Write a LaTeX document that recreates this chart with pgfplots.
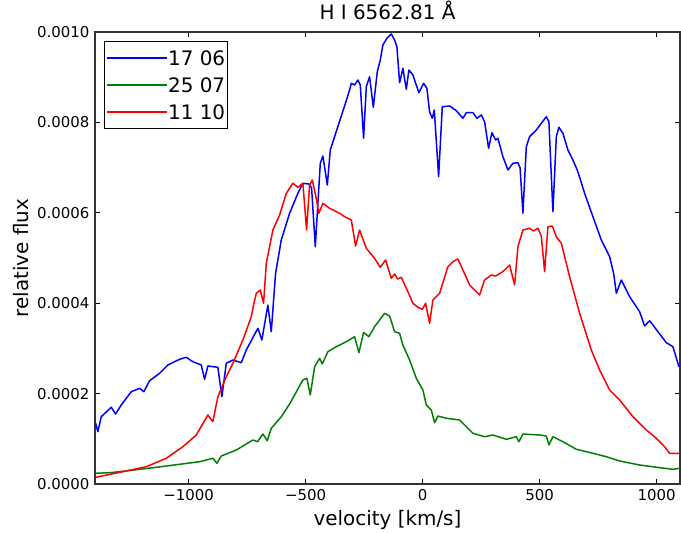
\documentclass[border=0pt]{standalone}
\usepackage{pgfplots}
\pgfplotsset{compat=1.18}
\usepackage{fontspec}
\setmainfont{DejaVu Sans}
\definecolor{mplblue}{rgb}{0,0,1}
\definecolor{mplgreen}{rgb}{0,0.5,0}
\definecolor{mplred}{rgb}{1,0,0}
\begin{document}
\begin{tikzpicture}
\begin{axis}[
  name=ax,
  scale only axis, width=585bp, height=452bp,
  xmin=-1400, xmax=1100, ymin=0, ymax=0.0010,
  xtick={-1000,-500,0,500,1000},
  xticklabels={−1000,−500,0,500,1000},
  ytick={0,0.0002,0.0004,0.0006,0.0008,0.0010},
  yticklabels={0.0000,0.0002,0.0004,0.0006,0.0008,0.0010},
  scaled y ticks=false, scaled x ticks=false,
  minor tick num=0,
  tick align=inside, xtick pos=both, ytick pos=both,
  xticklabel pos=lower, yticklabel pos=left,
  major tick length=5.5bp,
  tick style={line width=1bp, black},
  axis line style={line width=1.2bp, black!80},
  ticklabel style={font=\fontsize{15}{18}\selectfont, inner sep=0pt},
  xticklabel shift=5.5bp, yticklabel shift=5.5bp,
  title={H I 6562.81 Å},
  title style={at={(axis description cs:0.5,1.0155)}, anchor=base, inner sep=0pt, font=\fontsize{20}{24}\selectfont},
  xlabel={velocity [km/s]},
  xlabel style={at={(axis description cs:0.5,-0.0929)}, anchor=base, inner sep=0pt, font=\fontsize{20}{24}\selectfont},
  ylabel={relative flux},
  ylabel style={at={(axis description cs:-0.1145,0.5)}, rotate=0, anchor=base, inner sep=0pt, font=\fontsize{20}{24}\selectfont},
  legend cell align=left,
  legend image code/.code={\path (0bp,0bp) -- (60bp,0bp); \draw[#1, line width=1.5bp] (11bp,0bp) -- (39bp,0bp);},
  legend style={at={(0.01538,0.9808)}, anchor=north west, draw=black, line width=1.2bp,
    fill=white, inner xsep=2bp, inner ysep=9.5bp, row sep=12.4bp,
    font=\fontsize{20}{24}\selectfont,
    nodes={inner sep=0pt, text height=14.6bp, text depth=0bp}},
]
\addplot[mplblue, line width=1.5bp, line join=round] coordinates {
(-1397.6,1.35e-4) (-1387.8,1.157e-4) (-1373.2,1.489e-4) (-1330.5,1.697e-4) (-1312.1,1.549e-4)
(-1287.8,1.748e-4) (-1245.0,2.042e-4) (-1209.5,2.117e-4) (-1191.2,2.042e-4) (-1166.8,2.285e-4)
(-1124.1,2.449e-4) (-1088.6,2.633e-4) (-1038.6,2.759e-4) (-1009.9,2.803e-4) (-981.7,2.706e-4)
(-945.8,2.633e-4) (-931.7,2.316e-4) (-917.6,2.611e-4) (-874.9,2.582e-4) (-857.8,1.931e-4)
(-839.0,2.670e-4) (-810.8,2.743e-4) (-774.9,2.684e-4) (-753.5,2.965e-4) (-703.9,3.445e-4)
(-686.8,3.186e-4) (-661.2,3.960e-4) (-646.7,3.369e-4) (-628.3,4.662e-4) (-603.9,5.398e-4)
(-568.4,5.989e-4) (-533.0,6.431e-4) (-511.6,6.653e-4) (-486.0,6.637e-4) (-474.4,6.549e-4)
(-458.6,5.250e-4) (-443.2,6.577e-4) (-437.2,7.095e-4) (-426.1,7.257e-4) (-407.3,6.615e-4)
(-394.5,7.389e-4) (-376.1,7.684e-4) (-357.7,7.980e-4) (-333.4,8.363e-4) (-312.0,8.717e-4)
(-304.7,8.865e-4) (-290.6,8.827e-4) (-276.5,8.938e-4) (-266.3,8.827e-4) (-252.2,7.648e-4)
(-240.6,8.790e-4) (-226.5,9.011e-4) (-210.7,8.334e-4) (-193.6,9.122e-4) (-180.8,9.381e-4)
(-169.7,9.712e-4) (-152.6,9.861e-4) (-133.8,9.956e-4) (-119.7,9.823e-4) (-109.8,9.675e-4)
(-98.3,8.878e-4) (-84.2,9.197e-4) (-69.7,8.732e-4) (-58.6,9.159e-4) (-41.5,9.049e-4)
(-15.8,8.657e-4) (4.3,8.865e-4) (18.4,8.754e-4) (29.9,8.230e-4) (41.5,8.091e-4)
(50.0,8.274e-4) (68.4,6.799e-4) (84.2,8.347e-4) (115.4,8.363e-4) (144.0,8.259e-4)
(172.2,8.091e-4) (186.8,8.215e-4) (215.0,8.215e-4) (232.1,8.091e-4) (250.9,8.164e-4)
(265.0,8.015e-4) (282.1,7.427e-4) (296.2,7.772e-4) (312.0,7.611e-4) (321.8,7.648e-4)
(343.2,7.241e-4) (364.6,6.947e-4) (385.9,7.095e-4) (407.3,7.108e-4) (416.7,6.991e-4)
(428.7,5.989e-4) (443.2,7.462e-4) (457.3,7.684e-4) (486.0,7.832e-4) (507.3,7.980e-4)
(528.7,8.126e-4) (539.8,8.015e-4) (556.9,6.024e-4) (571.4,7.684e-4) (582.5,7.892e-4)
(599.6,7.759e-4) (621.0,7.389e-4) (642.4,7.168e-4) (662.5,6.925e-4) (692.4,6.431e-4)
(727.9,5.914e-4) (763.8,5.398e-4) (799.2,5.029e-4) (816.3,4.662e-4) (827.9,4.219e-4)
(849.2,4.513e-4) (884.7,4.144e-4) (927.5,3.812e-4) (948.8,3.496e-4) (970.2,3.613e-4)
(1005.7,3.369e-4) (1041.6,3.126e-4) (1069.8,3.038e-4) (1095.4,2.595e-4)
};
\addlegendentry{17 06}
\addplot[mplgreen, line width=1.5bp, line join=round] coordinates {
(-1397.6,0.237e-4) (-1337.8,0.250e-4) (-1280.9,0.281e-4) (-1138.2,0.369e-4) (-1038.6,0.436e-4)
(-953.1,0.493e-4) (-896.3,0.569e-4) (-879.2,0.458e-4) (-860.4,0.619e-4) (-796.2,0.752e-4)
(-725.3,0.973e-4) (-705.2,0.936e-4) (-682.6,1.106e-4) (-663.8,0.958e-4) (-646.7,1.232e-4)
(-603.9,1.489e-4) (-568.4,1.770e-4) (-511.6,2.301e-4) (-494.5,2.338e-4) (-480.0,1.969e-4)
(-461.6,2.595e-4) (-440.2,2.781e-4) (-428.7,2.655e-4) (-404.8,2.927e-4) (-368.8,3.038e-4)
(-326.1,3.148e-4) (-290.6,3.259e-4) (-272.3,2.905e-4) (-252.2,3.352e-4) (-229.5,3.259e-4)
(-205.2,3.480e-4) (-183.8,3.628e-4) (-162.4,3.777e-4) (-141.0,3.717e-4) (-119.7,3.369e-4)
(-98.3,3.334e-4) (-84.2,3.075e-4) (-55.6,2.743e-4) (-26.9,2.338e-4) (1.3,2.080e-4)
(15.8,1.748e-4) (37.2,1.637e-4) (51.3,1.356e-4) (65.4,1.504e-4) (101.3,1.454e-4)
(158.1,1.416e-4) (215.0,1.122e-4) (265.0,1.046e-4) (300.5,1.084e-4) (357.7,0.989e-4)
(400.5,1.046e-4) (411.6,0.936e-4) (428.7,1.106e-4) (500.1,1.084e-4) (528.7,1.062e-4)
(539.8,0.863e-4) (556.9,1.046e-4) (599.6,0.936e-4) (656.9,0.768e-4) (727.9,0.679e-4)
(785.1,0.604e-4) (842.0,0.509e-4) (927.5,0.420e-4) (1012.9,0.361e-4) (1069.8,0.325e-4)
(1098.4,0.347e-4)
};
\addlegendentry{25 07}
\addplot[mplred, line width=1.5bp, line join=round] coordinates {
(-1397.6,0.148e-4) (-1280.9,0.272e-4) (-1180.9,0.383e-4) (-1095.4,0.569e-4) (-1024.5,0.825e-4)
(-967.2,1.084e-4) (-917.6,1.527e-4) (-896.3,1.378e-4) (-874.9,1.931e-4) (-839.0,2.374e-4)
(-810.8,2.670e-4) (-768.0,3.186e-4) (-732.1,3.701e-4) (-722.3,3.960e-4) (-710.8,4.219e-4)
(-693.7,4.292e-4) (-679.6,3.998e-4) (-668.0,4.883e-4) (-639.8,5.619e-4) (-611.2,5.951e-4)
(-582.5,6.431e-4) (-554.3,6.653e-4) (-533.0,6.564e-4) (-511.6,6.653e-4) (-495.8,5.619e-4)
(-483.0,6.615e-4) (-471.4,6.726e-4) (-457.3,6.394e-4) (-443.2,5.989e-4) (-426.1,6.210e-4)
(-397.5,6.100e-4) (-354.7,5.989e-4) (-333.4,5.914e-4) (-304.7,5.841e-4) (-286.4,5.265e-4)
(-269.3,5.619e-4) (-240.6,5.215e-4) (-205.2,4.993e-4) (-180.8,4.794e-4) (-158.1,4.956e-4)
(-133.8,4.551e-4) (-119.7,4.646e-4) (-106.9,4.535e-4) (-91.0,4.573e-4) (-62.8,4.254e-4)
(-41.5,3.998e-4) (-20.1,3.909e-4) (-1.3,3.865e-4) (12.8,3.998e-4) (29.9,3.555e-4)
(44.0,4.071e-4) (72.7,4.219e-4) (108.1,4.808e-4) (129.5,4.918e-4) (150.9,4.978e-4)
(172.2,4.735e-4) (200.9,4.403e-4) (243.6,4.181e-4) (265.0,4.513e-4) (293.6,4.624e-4)
(312.0,4.602e-4) (336.4,4.675e-4) (350.5,4.735e-4) (371.8,4.845e-4) (393.2,4.403e-4)
(407.3,5.250e-4) (428.7,5.619e-4) (457.3,5.657e-4) (474.4,5.597e-4) (492.8,5.657e-4)
(507.3,5.487e-4) (521.4,4.697e-4) (535.5,5.692e-4) (554.3,5.708e-4) (571.4,5.471e-4)
(592.8,5.325e-4) (628.3,4.586e-4) (671.0,3.777e-4) (721.0,2.965e-4) (756.5,2.522e-4)
(799.2,2.080e-4) (842.0,1.858e-4) (898.8,1.489e-4) (956.1,1.195e-4) (998.8,1.011e-4)
(1034.3,0.825e-4) (1055.7,0.679e-4) (1098.4,0.679e-4)
};
\addlegendentry{11 10}
\end{axis}
\pgfresetboundingbox
\useasboundingbox ([shift={(-95bp,-49bp)}]ax.south west) rectangle ([shift={(1bp,32bp)}]ax.north east);
\end{tikzpicture}
\end{document}
